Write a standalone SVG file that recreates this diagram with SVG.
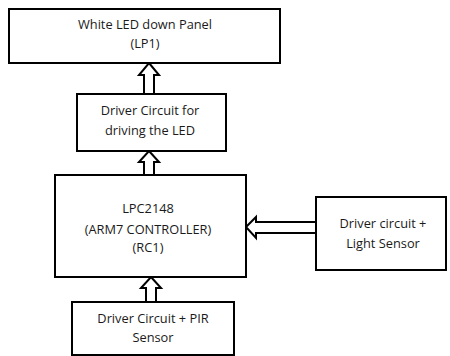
<svg xmlns="http://www.w3.org/2000/svg" width="450" height="356" viewBox="0 0 450 356">
<style>
.box{fill:#fff;stroke:#000;stroke-width:2}
.arr{fill:#fff;stroke:#000;stroke-width:2;stroke-linejoin:miter}
text{font-family:"Open Sans","Liberation Sans",sans-serif;font-size:12.8px;fill:#1a1a1a;text-anchor:middle}
</style>
<rect width="450" height="356" fill="#fff"/>
<g id="connectors">
<polygon class="arr" points="149,63 159,75 154,75 154,94 144,94 144,75 139,75"/>
<polygon class="arr" points="149,151 159,162 154,162 154,175 144,175 144,162 139,162"/>
<polygon class="arr" points="151,277 161,288 156,288 156,302 146,302 146,288 141,288"/>
<polygon class="arr" points="246,227 256,217 256,222 316,222 316,233 256,233 256,238"/>
</g>
<g id="lp1">
<rect class="box" x="9" y="9" width="271" height="54"/>
<text x="145" y="29">White LED down Panel</text>
<text x="145" y="48">(LP1)</text>
</g>
<g id="driver-led">
<rect class="box" x="77" y="94" width="149" height="57"/>
<text x="150" y="115">Driver Circuit for</text>
<text x="150" y="135">driving the LED</text>
</g>
<g id="lpc2148">
<rect class="box" x="55" y="175" width="191" height="102"/>
<text x="148" y="213">LPC2148</text>
<text x="148" y="234">(ARM7 CONTROLLER)</text>
<text x="148" y="252">(RC1)</text>
</g>
<g id="light-sensor">
<rect class="box" x="316" y="197" width="130" height="73"/>
<text x="383" y="228">Driver circuit +</text>
<text x="383" y="248">Light Sensor</text>
</g>
<g id="pir-sensor">
<rect class="box" x="72" y="302" width="162" height="53"/>
<text x="153" y="323">Driver Circuit + PIR</text>
<text x="153" y="342">Sensor</text>
</g>
</svg>
